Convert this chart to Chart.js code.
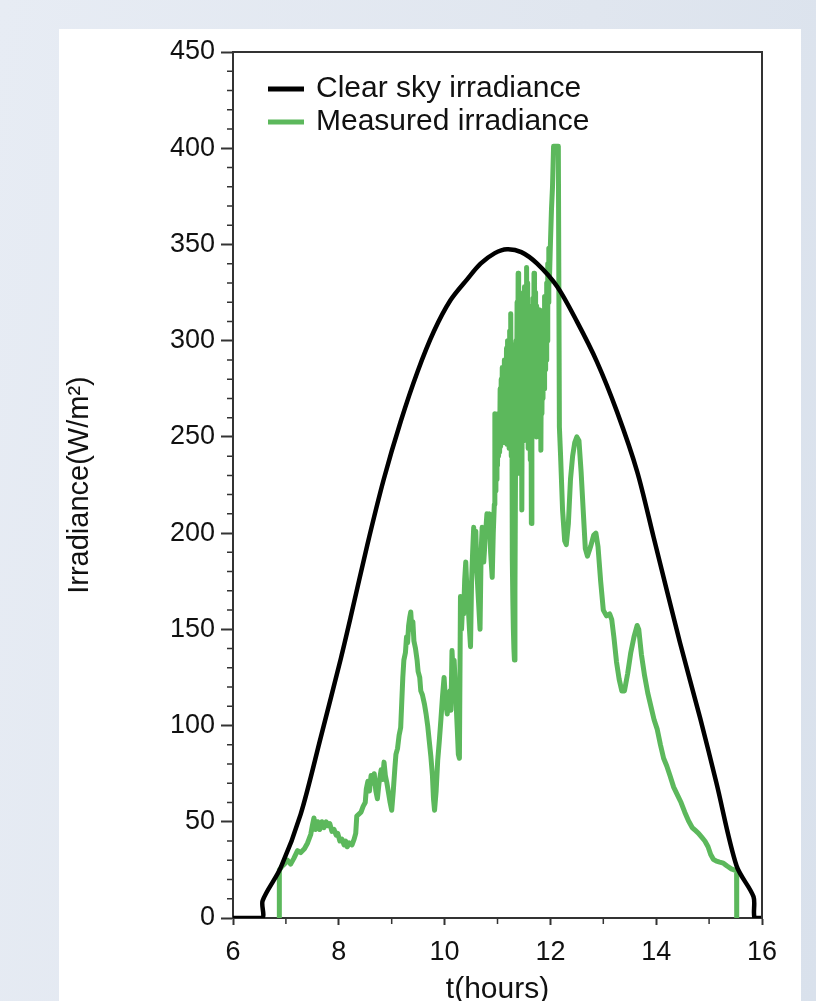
<!DOCTYPE html>
<html><head><meta charset="utf-8">
<script src="https://cdn.jsdelivr.net/npm/chart.js@4.4.1/dist/chart.umd.min.js"></script>
<style>
html,body{margin:0;padding:0;width:816px;height:1001px;overflow:hidden;}
body{background:linear-gradient(100deg,#e7ecf4 0%,#e0e6ef 60%,#d9e1ec 100%);position:relative;}
#panel{position:absolute;left:59px;top:29px;width:742px;height:1000px;background:#fff;overflow:hidden;}
#c{position:absolute;left:0;top:0;width:742px;height:1010px;}
</style></head><body>
<div id="panel"><canvas id="c" width="742" height="1010"></canvas></div>
<script>
// ---- data ----
const clearSkyT = [6, 6.55, 6.56, 6.9, 7.28, 7.66, 8.04, 8.23, 8.54, 8.85, 9.17, 9.49, 9.8, 10.11, 10.43, 10.68, 10.95, 11.18, 11.45, 11.75, 12.13, 12.5, 12.88, 13.26, 13.64, 13.95, 14.45, 14.83, 15.14, 15.52, 15.84, 15.86, 16];
const clearSkyV = [0, 0, 9, 26, 54, 94, 135, 157, 194, 228, 258, 284, 305, 321, 332, 340, 345.5, 347.5, 346, 340, 328, 310, 289, 263, 232, 198, 143, 104, 70, 27, 11, 0, 0];

const measuredT = [6.874, 6.876, 6.93, 6.97, 7.03, 7.09, 7.15, 7.22, 7.28, 7.35, 7.41, 7.47, 7.5, 7.53, 7.56, 7.6, 7.64, 7.68, 7.72, 7.76, 7.79, 7.83, 7.87, 7.91, 7.95, 7.98, 8.02, 8.06, 8.1, 8.13, 8.16, 8.2, 8.25, 8.29, 8.32, 8.34, 8.38, 8.42, 8.46, 8.5, 8.52, 8.55, 8.58, 8.61, 8.64, 8.67, 8.7, 8.73, 8.76, 8.8, 8.83, 8.855, 8.88, 8.91, 8.94, 8.97, 9.0, 9.03, 9.06, 9.08, 9.11, 9.14, 9.17, 9.19, 9.21, 9.23, 9.26, 9.28, 9.3, 9.32, 9.34, 9.36, 9.38, 9.4, 9.42, 9.45, 9.48, 9.5, 9.53, 9.55, 9.58, 9.62, 9.65, 9.68, 9.71, 9.74, 9.77, 9.79, 9.81, 9.84, 9.87, 9.9, 9.93, 9.96, 9.99, 10.02, 10.05, 10.07, 10.1, 10.12, 10.14, 10.16, 10.18, 10.2, 10.22, 10.24, 10.26, 10.28, 10.3, 10.32, 10.34, 10.36, 10.38, 10.4, 10.42, 10.44, 10.47, 10.49, 10.51, 10.53, 10.55, 10.57, 10.59, 10.61, 10.64, 10.67, 10.69, 10.71, 10.74, 10.77, 10.8, 10.83, 10.85, 10.87, 10.9, 10.92,
  10.94, 10.95, 10.96, 10.97, 10.98, 10.99, 11.0, 11.01, 11.02, 11.03, 11.04, 11.05, 11.06, 11.07, 11.08, 11.09, 11.1, 11.11, 11.12, 11.13, 11.14, 11.15, 11.16, 11.17, 11.18, 11.19, 11.2, 11.21, 11.22, 11.23, 11.24, 11.25, 11.26, 11.27, 11.28, 11.29, 11.3, 11.31, 11.32, 11.33, 11.34, 11.35, 11.36, 11.37, 11.38, 11.39, 11.4, 11.41, 11.42, 11.43, 11.44, 11.45, 11.46, 11.47, 11.48, 11.49, 11.5, 11.51, 11.52, 11.53, 11.54, 11.55, 11.56, 11.57, 11.58, 11.59, 11.6, 11.61, 11.62, 11.63, 11.64, 11.65, 11.66, 11.67, 11.68, 11.69, 11.7, 11.71, 11.72, 11.73, 11.74, 11.75, 11.76, 11.77, 11.78, 11.79, 11.8, 11.81, 11.82, 11.83, 11.84, 11.85, 11.86, 11.87, 11.88, 11.89, 11.9, 11.91, 11.92, 11.93, 11.94, 11.95, 11.96, 11.97, 11.98, 12.0, 12.02, 12.04, 12.06,
  12.15, 12.17, 12.19, 12.23, 12.27, 12.3, 12.34, 12.38, 12.42, 12.46, 12.5, 12.54, 12.58, 12.62, 12.66, 12.7, 12.76, 12.82, 12.86, 12.9, 12.95, 13.0, 13.06, 13.12, 13.16, 13.2, 13.25, 13.3, 13.35, 13.4, 13.46, 13.52, 13.58, 13.64, 13.67, 13.72, 13.78, 13.84, 13.9, 13.96, 14.02, 14.08, 14.14, 14.2, 14.26, 14.33, 14.4, 14.47, 14.54, 14.61, 14.68, 14.74, 14.8, 14.86, 14.92, 14.98, 15.03, 15.08, 15.14, 15.2, 15.27, 15.34, 15.42, 15.52, 15.522];
const measuredV = [0, 25, 27, 28, 30, 28, 31, 35, 34, 36, 39, 43.5, 48, 52, 46, 50, 46, 50, 47, 50, 48, 49, 45, 46, 43, 44, 40, 41, 38, 40, 37, 39, 38, 41, 44, 53, 54, 55, 58, 60, 67, 71, 66, 74, 70, 75, 66, 62, 70, 77, 72, 81, 74, 70, 65, 60, 56, 66, 78, 85, 88, 95, 99, 112, 125, 134, 138, 146, 143, 152, 156, 159, 150, 154, 144, 140, 134, 128, 125, 118, 116, 111, 106, 100, 92, 84, 74, 62, 56, 66, 82, 92, 103, 115, 125, 112, 106, 115, 118, 108, 139, 128, 134, 122, 110, 98, 85, 83, 167, 150, 162, 158, 176, 185, 172, 165, 150, 141, 175, 190, 203, 185, 201, 180, 165, 150, 190, 203, 185, 198, 210, 205, 210, 190, 177, 200,
  215, 262, 222, 258, 228, 252, 235, 262, 240, 255, 242, 275, 245, 280, 250, 286, 248, 282, 252, 290, 247, 285, 250, 296, 246, 300, 252, 295, 244, 305, 250, 314, 240, 298, 186, 165, 150, 140, 134, 170, 230, 300, 255, 320, 250, 335, 248, 325, 231, 318, 245, 308, 212, 300, 250, 322, 248, 328, 252, 320, 250, 338, 256, 330, 244, 318, 250, 312, 238, 305, 205, 300, 252, 322, 255, 335, 258, 325, 262, 318, 250, 316, 255, 310, 262, 316, 252, 306, 243, 300, 262, 312, 270, 310, 275, 323, 285, 318, 290, 330, 300, 340, 320, 348, 330, 350, 368, 380, 401,
  401, 255, 242, 212, 196, 194, 205, 228, 240, 247, 250, 248, 232, 212, 192, 188, 193, 199, 200, 193, 175, 160, 157, 158, 155, 146, 133, 124, 118, 118, 127, 138, 146, 152, 150, 137, 126, 117, 110, 103, 98, 90, 83, 79, 74, 68, 64, 60, 55, 50.5, 47, 45.5, 44, 42, 40, 37, 33, 30.5, 29.5, 29, 28.5, 27, 25.5, 24.5, 0];

const xTickValues = [6, 8, 10, 12, 14, 16];
const xMinorTicks = [7, 9, 11, 13, 15];
const yTickValues = [0, 50, 100, 150, 200, 250, 300, 350, 400, 450];
const yMinorTicks = [];
for (let v = 10; v < 450; v += 10) if (v % 50 !== 0) yMinorTicks.push(v);

const seriesLabels = ['Clear sky irradiance', 'Measured irradiance'];
const FONT = "'Liberation Sans', Arial, Helvetica, sans-serif";
const AXIS = '#333';
const TXT = '#111';

const toXY = (ts, vs) => ts.map((t, i) => ({x: t, y: vs[i]}));

const framePlugin = {
  id: 'frameAndMinor',
  afterDraw(chart) {
    const {ctx, chartArea: a, scales: {x, y}} = chart;
    ctx.save();
    ctx.strokeStyle = AXIS;
    ctx.lineWidth = 2;
    ctx.beginPath();
    ctx.moveTo(a.left, a.top);
    ctx.lineTo(a.right, a.top);
    ctx.lineTo(a.right, a.bottom);
    ctx.stroke();
    ctx.lineWidth = 1.5;
    ctx.beginPath();
    yMinorTicks.forEach(v => { const p = y.getPixelForValue(v); ctx.moveTo(a.left - 6, p); ctx.lineTo(a.left, p); });
    xMinorTicks.forEach(v => { const p = x.getPixelForValue(v); ctx.moveTo(p, a.bottom); ctx.lineTo(p, a.bottom + 6); });
    ctx.stroke();
    // inline legend
    ctx.font = '30px ' + FONT;
    ctx.textBaseline = 'middle';
    ctx.textAlign = 'left';
    chart.data.datasets.forEach((ds, i) => {
      const yy = a.top + 37 + i * 33;
      ctx.strokeStyle = ds.borderColor;
      ctx.lineWidth = 5;
      ctx.beginPath();
      ctx.moveTo(a.left + 35, yy);
      ctx.lineTo(a.left + 71, yy);
      ctx.stroke();
      ctx.fillStyle = TXT;
      ctx.fillText(ds.label, a.left + 83, yy);
    });
    ctx.restore();
  }
};

new Chart(document.getElementById('c'), {
  type: 'line',
  data: {
    datasets: [
      {label: seriesLabels[0], data: toXY(clearSkyT, clearSkyV), borderColor: '#000000', backgroundColor: '#000000',
       borderWidth: 4.5, pointRadius: 0, fill: false, tension: 0.3, borderJoinStyle: 'round'},
      {label: seriesLabels[1], data: toXY(measuredT, measuredV), borderColor: '#5cb85c', backgroundColor: '#5cb85c',
       borderWidth: 5, pointRadius: 0, fill: false, tension: 0, borderJoinStyle: 'round'}
    ]
  },
  options: {
    responsive: false,
    animation: false,
    devicePixelRatio: 1,
    layout: {padding: {top: 23, right: 39, left: 0, bottom: 0}},
    plugins: {legend: {display: false}, tooltip: {enabled: false}},
    scales: {
      x: {
        type: 'linear', min: 6, max: 16,
        afterFit(s) { s.height = 121; },
        afterBuildTicks(s) { s.ticks = xTickValues.map(v => ({value: v})); },
        grid: {drawOnChartArea: false, drawTicks: true, tickLength: 7, tickColor: AXIS, tickWidth: 2},
        border: {display: true, color: AXIS, width: 2},
        ticks: {padding: 11, color: TXT, font: {family: FONT, size: 27}, maxRotation: 0, autoSkip: false},
        title: {display: true, text: 't(hours)', color: TXT, font: {family: FONT, size: 30}, padding: {top: 0, bottom: 31}}
      },
      y: {
        type: 'linear', min: 0, max: 450,
        afterFit(s) { s.width = 174; },
        afterBuildTicks(s) { s.ticks = yTickValues.map(v => ({value: v})); },
        grid: {drawOnChartArea: false, drawTicks: true, tickLength: 12, tickColor: AXIS, tickWidth: 2},
        border: {display: true, color: AXIS, width: 2},
        ticks: {padding: 6, color: TXT, font: {family: FONT, size: 27}, autoSkip: false},
        title: {display: true, text: 'Irradiance(W/m²)', color: TXT, font: {family: FONT, size: 29}, padding: {top: 4, bottom: 0}}
      }
    }
  },
  plugins: [framePlugin]
});
</script></body></html>
